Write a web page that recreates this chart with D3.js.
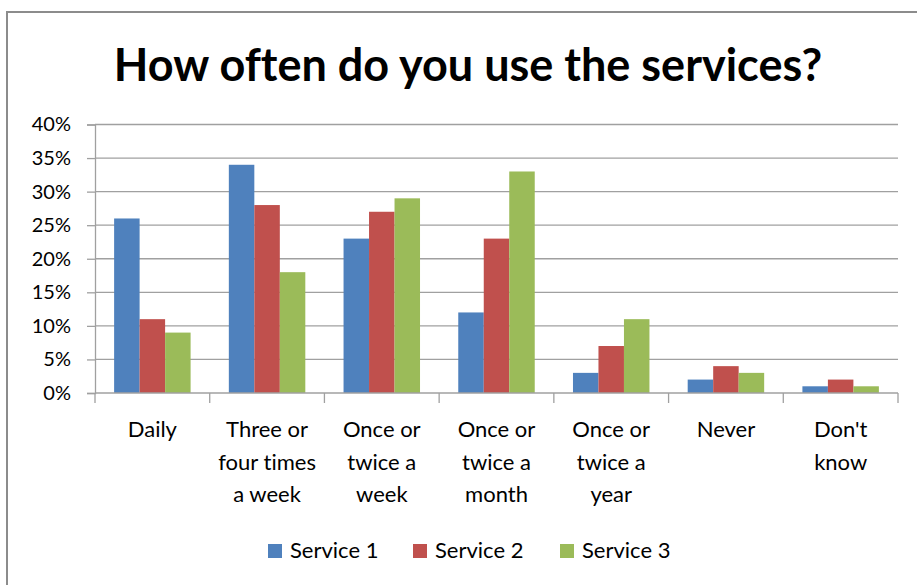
<!DOCTYPE html>
<html>
<head>
<meta charset="utf-8">
<script src="https://cdn.jsdelivr.net/npm/d3@7"></script>
<style>
  html, body { margin: 0; padding: 0; background: #fff; }
  svg text { font-family: Lato, "Open Sans", sans-serif; fill: #000; font-variant-ligatures: none; font-feature-settings: "liga" 0, "clig" 0; }
</style>
</head>
<body>
<script>
const categories = ["Daily", "Three or four times a week", "Once or twice a week", "Once or twice a month", "Once or twice a year", "Never", "Don't know"];
const tickLabels = [
  ["Daily"],
  ["Three or", "four times", "a week"],
  ["Once or", "twice a", "week"],
  ["Once or", "twice a", "month"],
  ["Once or", "twice a", "year"],
  ["Never"],
  ["Don't", "know"]
];
const seriesNames = ["Service 1", "Service 2", "Service 3"];
const service1 = [26, 34, 23, 12, 3, 2, 1];
const service2 = [11, 28, 27, 23, 7, 4, 2];
const service3 = [9, 18, 29, 33, 11, 3, 1];
const yTicks = [0, 5, 10, 15, 20, 25, 30, 35, 40];
const colors = ["#4F81BD", "#C0504D", "#9BBB59"];
const title = "How often do you use the services?";

(function () {
const W = 917, H = 585;
const svg = d3.select("body").append("svg").attr("width", W).attr("height", H);

// chart frame
svg.append("path").attr("d", `M7,${H} V12 H${W}`).attr("fill", "none").attr("stroke", "#8c8c8c").attr("stroke-width", 2);

const pLeft = 95, pRight = 898, pTop = 124.5, pBottom = 393;
const x = d3.scaleBand().domain(categories).range([pLeft, pRight]).padding(0);
const xs = d3.scaleBand().domain(seriesNames).range([0, x.bandwidth()]).paddingInner(0).paddingOuter(0.75);
const y = d3.scaleLinear().domain([0, 40]).range([pBottom, pTop]);

// grid
svg.append("g").selectAll("line").data(yTicks.slice(1)).join("line")
  .attr("x1", pLeft).attr("x2", pRight).attr("y1", d => y(d)).attr("y2", d => y(d))
  .attr("stroke", "#a0a0a0").attr("stroke-width", 1.3);

// y axis
const yAxis = svg.append("g").attr("transform", `translate(${pLeft},0)`)
  .call(d3.axisLeft(y).tickValues(yTicks).tickSize(8).tickPadding(16).tickFormat(d => d + "%"));
yAxis.select(".domain").attr("stroke", "#a0a0a0").attr("stroke-width", 1.3);
yAxis.selectAll(".tick line").attr("stroke", "#a0a0a0").attr("stroke-width", 1.3);
yAxis.selectAll(".tick text").style("font-family", "Lato, sans-serif").style("font-size", "20px").attr("fill", "#000");

// bars
const data = categories.map((c, i) => ({ c, vals: [service1[i], service2[i], service3[i]] }));
const groups = svg.append("g").selectAll("g").data(data).join("g")
  .attr("transform", d => `translate(${x(d.c)},0)`);
groups.selectAll("rect").data(d => d.vals.map((v, j) => ({ v, s: seriesNames[j], j }))).join("rect")
  .attr("x", d => xs(d.s)).attr("width", xs.bandwidth())
  .attr("y", d => y(d.v)).attr("height", d => y(0) - y(d.v))
  .attr("fill", d => colors[d.j]);

// x axis
svg.append("line").attr("x1", pLeft).attr("x2", pRight).attr("y1", pBottom).attr("y2", pBottom)
  .attr("stroke", "#a0a0a0").attr("stroke-width", 1.3);
const bounds = categories.map(c => x(c)).concat([pRight]);
svg.append("g").selectAll("line").data(bounds).join("line")
  .attr("x1", d => d).attr("x2", d => d).attr("y1", pBottom).attr("y2", pBottom + 10)
  .attr("stroke", "#a0a0a0").attr("stroke-width", 1.3);

// x labels
const xl = svg.append("g").selectAll("text").data(categories).join("text")
  .attr("text-anchor", "middle").style("font-size", "22px")
  .attr("transform", d => `translate(${x(d) + x.bandwidth() / 2},437)`);
xl.selectAll("tspan").data((d, i) => tickLabels[i]).join("tspan")
  .attr("x", 0).attr("dy", (d, i) => i === 0 ? 0 : 32.5).text(d => d);

// title
svg.append("text").attr("x", 468).attr("y", 81).attr("text-anchor", "middle")
  .style("font-size", "45px").style("font-weight", "bold").text(title);

// legend
const legendX = [268, 413, 560];
const lg = svg.append("g").selectAll("g").data(seriesNames).join("g")
  .attr("transform", (d, i) => `translate(${legendX[i]},544)`);
lg.append("rect").attr("width", 14).attr("height", 14).attr("fill", (d, i) => colors[i]);
lg.append("text").attr("x", 22).attr("y", 14).style("font-size", "22px").text(d => d);
})();
</script>
</body>
</html>
